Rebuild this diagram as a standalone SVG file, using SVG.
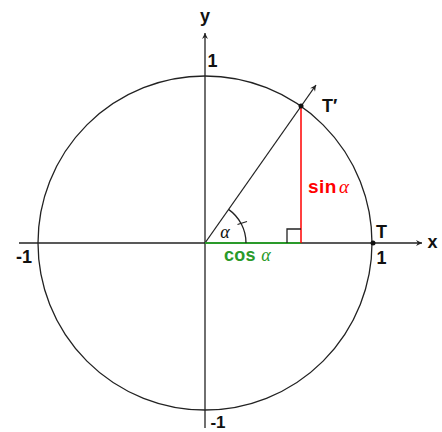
<svg xmlns="http://www.w3.org/2000/svg" width="442" height="432" viewBox="0 0 442 432">
<defs>
<marker id="arr" markerWidth="8" markerHeight="8" refX="7" refY="4" orient="auto" markerUnits="userSpaceOnUse">
<path d="M1,1 L7,4 L1,7 L3,4 Z" fill="#222"/>
</marker>
<style>
.ln{stroke:#222;stroke-width:1.3;fill:none}
.lb{font-family:"Liberation Sans",Arial,sans-serif;font-weight:bold;font-size:18px;fill:#111}
.al{font-family:"Liberation Serif",serif;font-style:italic;font-weight:normal}
</style>
</defs>
<g id="circle"><circle cx="205" cy="243" r="167" class="ln"/></g>
<g id="connectors">
<line x1="19" y1="243" x2="422" y2="243" class="ln" marker-end="url(#arr)"/>
<line x1="205" y1="428" x2="205" y2="33" class="ln" marker-end="url(#arr)"/>
<line x1="205" y1="243" x2="316" y2="85" class="ln" marker-end="url(#arr)"/>
<line x1="205" y1="243" x2="301" y2="243" stroke="#2a9a2a" stroke-width="2"/>
<line x1="301" y1="106" x2="301" y2="243" stroke="#ff0000" stroke-width="1.5"/>
<path d="M287,243 V229 H301" class="ln"/>
<path d="M246,243 A41,41 0 0 0 228.5,209.4" class="ln"/>
<line x1="237.5" y1="224.5" x2="247" y2="221.5" class="ln"/>
</g>
<g id="points">
<circle cx="301" cy="106" r="2.5" fill="#111"/>
<circle cx="373" cy="243" r="2.5" fill="#111"/>
</g>
<g id="labels">
<text x="205" y="22" text-anchor="middle" class="lb">y</text>
<text x="212.5" y="67" text-anchor="middle" class="lb">1</text>
<text x="322" y="112" class="lb">T′</text>
<text x="376" y="238" class="lb">T</text>
<text x="381.5" y="264" text-anchor="middle" class="lb">1</text>
<text x="432.5" y="248" text-anchor="middle" class="lb">x</text>
<text x="24" y="263" text-anchor="middle" class="lb">-1</text>
<text x="218" y="428" text-anchor="middle" class="lb" font-size="17" style="font-size:17px">-1</text>
<text x="225" y="238" text-anchor="middle" class="lb al" font-size="16">α</text>
<text x="308" y="193" class="lb" style="fill:#ff0000;font-size:19px;letter-spacing:0.5px">sin<tspan class="al" dx="2">α</tspan></text>
<text x="224" y="261" class="lb" style="fill:#2a9a2a;letter-spacing:0.3px">cos <tspan class="al">α</tspan></text>
</g>
</svg>
